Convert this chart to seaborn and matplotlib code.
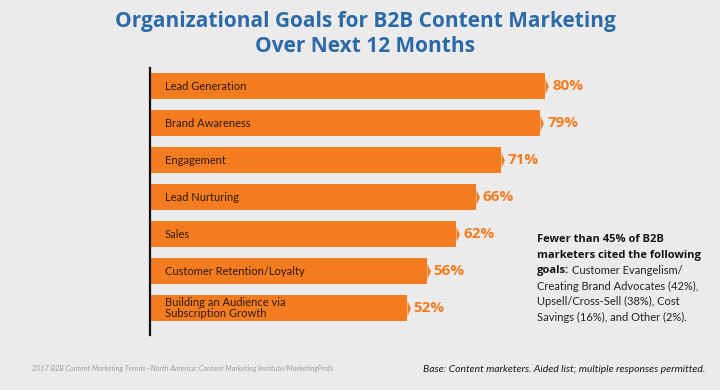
import pandas as pd
import matplotlib.pyplot as plt
import seaborn as sns

goals = ['Lead Generation', 'Brand Awareness', 'Engagement', 'Lead Nurturing',
         'Sales', 'Customer Retention/Loyalty',
         'Building an Audience via\nSubscription Growth']
pct = [80, 79, 71, 66, 62, 56, 52]

df = pd.DataFrame({'goal': goals, 'pct': pct})

bg = '#ebebeb'
orange = '#f47c20'
blue = '#2b6aa6'

sns.set_theme(style='white')
plt.rcParams['font.family'] = ['Open Sans', 'DejaVu Sans']

fig = plt.figure(figsize=(7.2, 3.9), dpi=100, facecolor=bg)
ax = fig.add_axes([150/720, 1 - 335/390, 494/720, 267/390], facecolor=bg)

sns.barplot(data=df, x='pct', y='goal', color=orange, saturation=1,
            width=0.7, linewidth=0, ax=ax)
# shallow pointed tip at the end of each bar
tip = [(0, -1), (0.45, 0), (0, 1), (0, -1)]
ax.scatter(df['pct'], range(len(df)), marker=tip, s=120, color=orange,
           linewidths=0, zorder=3)
ax.set_xlim(0, 100)
ax.set_ylim(6.73, -0.49)

for i, (g, v) in enumerate(zip(goals, pct)):
    ax.text(3, i, g, va='center', ha='left', fontsize=8, color='#2e1a0c',
            family='Lato', linespacing=0.95)
    ax.text(v + 1.4, i, f'{v}%', va='center', ha='left', fontsize=11,
            color=orange, fontweight='bold', family='Open Sans')

ax.set_xlabel('')
ax.set_ylabel('')
ax.set_xticks([])
ax.set_yticks([])
for s in ['top', 'right', 'bottom']:
    ax.spines[s].set_visible(False)
ax.spines['left'].set_color('#111111')
ax.spines['left'].set_linewidth(1.6)

# title
fig.text(0.507, 1 - 22/390, 'Organizational Goals for B2B Content Marketing',
         ha='center', va='center', fontsize=15, fontweight='bold', color=blue)
fig.text(0.507, 1 - 46/390, 'Over Next 12 Months',
         ha='center', va='center', fontsize=15, fontweight='bold', color=blue)

# side note
nx = 537/720
lines_bold = ['Fewer than 45% of B2B', 'marketers cited the following']
ny = 1 - 240/390
step = 15.4/390
for k, t in enumerate(lines_bold):
    fig.text(nx, ny - k*step, t, ha='left', va='center', fontsize=8,
             fontweight='bold', color='#151515', family='Open Sans')
gt = fig.text(nx, ny - 2*step, 'goals:', ha='left', va='center', fontsize=8,
              fontweight='bold', color='#151515', family='Open Sans')
ax.annotate('Customer Evangelism/', xy=(1, 0), xycoords=gt, xytext=(2, 0),
            textcoords='offset points', ha='left', va='bottom', fontsize=8,
            color='#222222', family='Lato', annotation_clip=False)
rest = ['Creating Brand Advocates (42%),', 'Upsell/Cross-Sell (38%), Cost',
        'Savings (16%), and Other (2%).']
for k, t in enumerate(rest):
    fig.text(nx, ny - (3 + k)*step, t, ha='left', va='center', fontsize=8,
             color='#222222', family='Lato')

# footer
fig.text(32/720, 1 - 369/390,
         '2017 B2B Content Marketing Trends\u2014North America: Content Marketing Institute/MarketingProfs',
         ha='left', va='center', fontsize=5.2, style='italic', color='#9a9a9a',
         family='Lato')
fig.text(705/720, 1 - 369/390,
         'Base: Content marketers. Aided list; multiple responses permitted.',
         ha='right', va='center', fontsize=7.5, style='italic', color='#1a1a1a',
         family='Lato')

fig.savefig('out.png', dpi=100, facecolor=bg)
